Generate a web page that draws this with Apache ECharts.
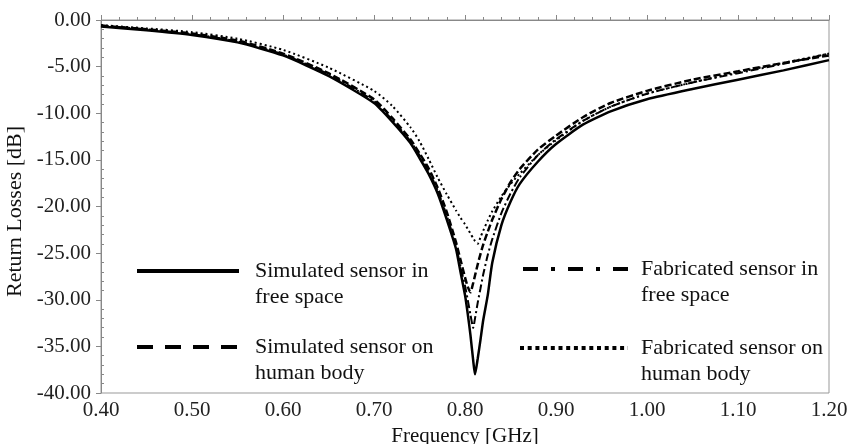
<!DOCTYPE html>
<html>
<head>
<meta charset="utf-8">
<script src="https://cdn.jsdelivr.net/npm/echarts@6/dist/echarts.min.js"></script>
<style>html,body{margin:0;padding:0;background:#fff;}#c{width:850px;height:444px;}</style>
</head>
<body>
<div id="c"></div>
<script>
const freqGHz = [0.40,0.45,0.50,0.55,0.60,0.65,0.70,0.72,0.74,0.75,0.76,0.77,0.78,0.79,0.795,0.80,0.803,0.806,0.809,0.811,0.814,0.817,0.82,0.825,0.83,0.84,0.85,0.86,0.88,0.90,0.93,0.96,1.00,1.05,1.10,1.15,1.20];
const simFree = [-0.7,-1.1,-1.6,-2.4,-3.8,-6.0,-8.9,-10.9,-13.2,-14.8,-16.5,-18.6,-21.4,-24.5,-27.0,-29.5,-31.5,-33.8,-36.5,-38.0,-36.3,-34.3,-32.2,-29.5,-26.0,-22.0,-19.5,-17.6,-15.2,-13.3,-11.2,-9.8,-8.5,-7.4,-6.4,-5.4,-4.3];
const simBody = [-0.6,-1.0,-1.45,-2.2,-3.6,-5.7,-8.5,-10.5,-12.8,-14.3,-15.9,-18.0,-20.6,-23.8,-25.7,-27.6,-28.6,-29.2,-28.2,-27.4,-26.2,-25.1,-24.1,-22.7,-21.4,-19.2,-17.4,-16.0,-13.9,-12.4,-10.4,-8.9,-7.6,-6.4,-5.5,-4.6,-3.8];
const fabFree = [-0.6,-1.0,-1.5,-2.3,-3.7,-5.8,-8.7,-10.7,-13.0,-14.5,-16.2,-18.3,-21.0,-24.2,-26.4,-28.5,-30.0,-31.6,-33.0,-32.0,-30.3,-28.8,-27.3,-25.2,-23.5,-20.7,-18.6,-16.9,-14.5,-12.8,-10.8,-9.3,-7.9,-6.7,-5.7,-4.7,-3.6];
const fabBody = [-0.55,-0.9,-1.3,-2.0,-3.2,-5.1,-7.6,-9.2,-11.5,-13.0,-14.9,-16.9,-18.7,-20.4,-21.2,-21.9,-22.4,-22.9,-23.4,-23.7,-24.0,-23.3,-22.6,-21.5,-20.5,-18.9,-17.6,-16.5,-14.5,-12.9,-10.8,-9.3,-7.9,-6.7,-5.6,-4.6,-3.6];
const seriesNames = ['Simulated sensor in\nfree space','Simulated sensor on\nhuman body','Fabricated sensor in\nfree space','Fabricated sensor on\nhuman body'];
const yTicks = {min:-40, max:0, interval:5};
const xTicks = {min:0.4, max:1.2, interval:0.1};

const FONT = '"Liberation Serif","DejaVu Serif",serif';
const pairs = vals => freqGHz.map((f,i)=>[f, vals[i]]);

const chart = echarts.init(document.getElementById('c'), null, {renderer:'canvas'});

function legendAt(name, left, top, width, padLeft, ls){
  return {
    data:[{name:name, lineStyle:ls, itemStyle:{opacity:0}}],
    left:left, top:top, orient:'vertical', padding:0,
    itemWidth:width, itemHeight:14, selectedMode:false,
    formatter: n => '\n' + n,
    textStyle:{fontFamily:FONT, fontSize:22, lineHeight:26, color:'#111', padding:[0,0,0,padLeft]}
  };
}

chart.setOption({
  animation:false,
  backgroundColor:'#fff',
  color:['#000','#000','#000','#000'],
  grid:{left:101, right:21, top:20, bottom:51, outerBoundsMode:'none', containLabel:false, show:true, borderColor:'#999', borderWidth:1, backgroundColor:'transparent'},
  legend:[
    legendAt(seriesNames[0],135,232,102,11,{color:'#000',width:4,type:'solid'}),
    legendAt(seriesNames[1],135,308,102,11,{color:'#000',width:4,type:[16,12]}),
    legendAt(seriesNames[2],521,230,112,1,{color:'#000',width:4,type:[15,13,4,13]}),
    legendAt(seriesNames[3],518,309,108,8,{color:'#000',width:4,type:[4,3.7]})
  ],
  xAxis:{
    type:'value', min:xTicks.min, max:xTicks.max, interval:xTicks.interval,
    name:'Frequency [GHz]', nameLocation:'middle', nameGap:31,
    nameTextStyle:{fontFamily:FONT, fontSize:21, color:'#111'},
    axisLine:{lineStyle:{color:'#888', width:1}},
    axisTick:{inside:true, length:5, lineStyle:{color:'#888'}},
    minorTick:{show:true, splitNumber:5, length:3, lineStyle:{color:'#888'}},
    splitLine:{show:false},
    axisLabel:{margin:7, fontFamily:FONT, fontSize:21, color:'#222', formatter:v=>v.toFixed(2)}
  },
  yAxis:[{
    type:'value', min:yTicks.min, max:yTicks.max, interval:yTicks.interval,
    name:'Return Losses [dB]', nameLocation:'middle', nameGap:71,
    nameTextStyle:{fontFamily:FONT, fontSize:22, color:'#111', padding:[0,10,0,0]},
    axisLine:{show:true, lineStyle:{color:'#888', width:1}},
    axisTick:{show:true, inside:false, length:5, lineStyle:{color:'#888'}},
    splitLine:{show:false},
    axisLabel:{margin:10, fontFamily:FONT, fontSize:21, color:'#222', formatter:v=>v.toFixed(2)}
  },{
    type:'value', min:yTicks.min, max:yTicks.max, interval:yTicks.interval, position:'left',
    axisLine:{show:false}, axisLabel:{show:false}, splitLine:{show:false},
    axisTick:{show:false, inside:true},
    minorTick:{show:true, splitNumber:5, length:3, lineStyle:{color:'#888'}}
  }],
  series:[
    {name:seriesNames[3], type:'line', data:pairs(fabBody), symbol:'none', smooth:0.2, lineStyle:{color:'#000', width:2, type:[2,3]}},
    {name:seriesNames[2], type:'line', data:pairs(fabFree), symbol:'none', smooth:0.2, lineStyle:{color:'#000', width:2, type:[8,3,2,3]}},
    {name:seriesNames[1], type:'line', data:pairs(simBody), symbol:'none', smooth:0.2, lineStyle:{color:'#000', width:2.5, type:[7,3]}},
    {name:seriesNames[0], type:'line', data:pairs(simFree), symbol:'none', smooth:0.2, lineStyle:{color:'#000', width:2.5, type:'solid'}}
  ]
});
</script>
</body>
</html>
